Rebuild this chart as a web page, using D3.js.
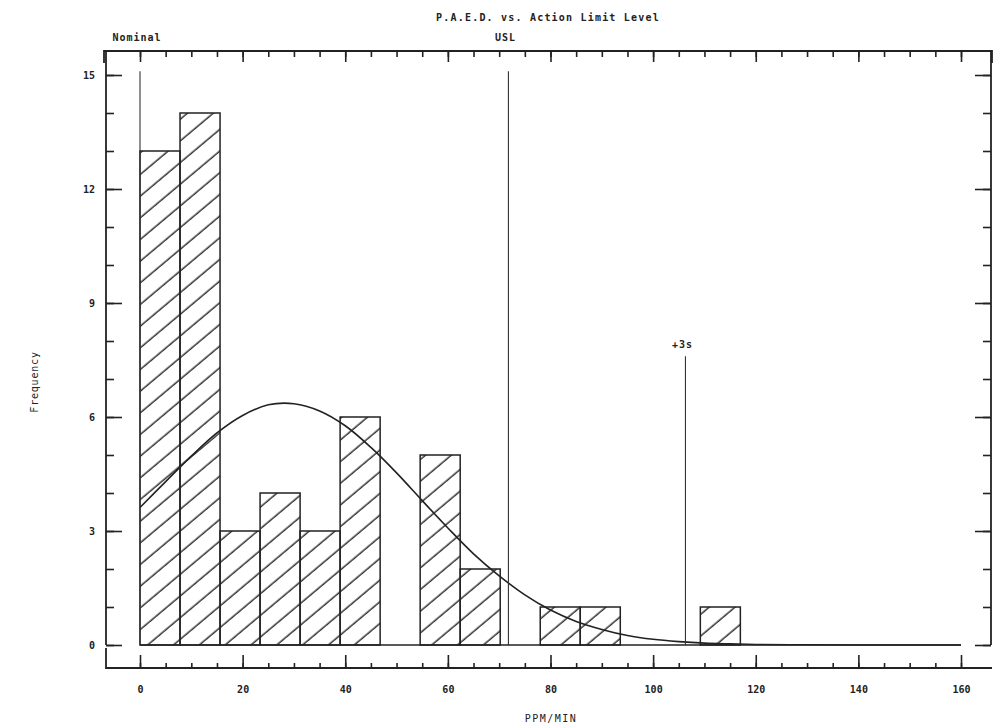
<!DOCTYPE html>
<html>
<head>
<meta charset="utf-8">
<script src="https://cdn.jsdelivr.net/npm/d3@7"></script>
<style>
body { margin: 0; background: #fff; }
text { font-family: 'DejaVu Sans Mono', monospace; fill: #222; }
.tick line { stroke: #222; stroke-width: 1.6px; }
</style>
</head>
<body>
<div id="chart"></div>
<script>

// histogram bins (PPM/MIN) and counts
var binEdges = [0, 7.8, 15.6, 23.4, 31.2, 39, 46.8, 54.6, 62.4, 70.2, 78, 85.8, 93.6, 101.4, 109.2, 117]
var counts   = [13, 14, 3, 4, 3, 6, 0, 5, 2, 0, 1, 1, 0, 0, 1]

// fitted curve
var curveX = [0, 5, 10, 15, 20, 25, 30, 35, 40, 45, 50, 55, 60, 65, 70, 75, 80, 85, 90, 95, 100, 105, 110, 115, 120, 130, 140, 150, 160]
var curveY = [3.62, 4.3, 4.97, 5.58, 6.04, 6.32, 6.35, 6.16, 5.77, 5.2, 4.53, 3.8, 3.08, 2.4, 1.82, 1.32, 0.92, 0.62, 0.41, 0.25, 0.15, 0.09, 0.05, 0.03, 0.015, 0.005, 0, 0, 0]

var xTicks = [0, 20, 40, 60, 80, 100, 120, 140, 160]
var yTicks = [0, 3, 6, 9, 12, 15]

var refLabels = ['Nominal', 'USL', '+3s']
var refValues = [0, 71.8, 106.3]
var refTops   = [15.1, 15.1, 7.6]

var W = 993, H = 727

var svg = d3.select('#chart').append('svg')
  .attr('width', W).attr('height', H)

var x = d3.scaleLinear().domain([0, 160]).range([140, 961])
var y = d3.scaleLinear().domain([0, 15]).range([645, 75])

var minorX = d3.range(0, 161, 5)
var minorY = d3.range(0, 16, 1)

// hatching
svg.append('defs').append('pattern')
  .attr('id', 'hatch')
  .attr('patternUnits', 'userSpaceOnUse')
  .attr('width', 20).attr('height', 16.6)
  .attr('patternTransform', 'rotate(-40)')
  .append('line')
  .attr('x1', 0).attr('x2', 20).attr('y1', 8).attr('y2', 8)
  .attr('stroke', '#111').attr('stroke-width', 1.3)

var bins = counts.map(function(c, i){ return {lo: binEdges[i], hi: binEdges[i + 1], n: c} })
  .filter(function(d){ return d.n > 0 })

svg.selectAll('rect.bar').data(bins).enter().append('rect')
  .attr('class', 'bar')
  .attr('x', function(d){ return x(d.lo) })
  .attr('width', function(d){ return x(d.hi) - x(d.lo) })
  .attr('y', function(d){ return y(d.n) })
  .attr('height', function(d){ return y(0) - y(d.n) })
  .attr('fill', 'url(#hatch)')
  .attr('stroke', '#222')
  .attr('stroke-width', 1.5)

// baseline
svg.append('line')
  .attr('x1', x(0)).attr('x2', x(160)).attr('y1', y(0)).attr('y2', y(0))
  .attr('stroke', '#222').attr('stroke-width', 1.6)

// fitted curve
var line = d3.line()
  .x(function(d, i){ return x(curveX[i]) })
  .y(function(d){ return y(d) })
  .curve(d3.curveCatmullRom)

svg.append('path')
  .attr('d', line(curveY))
  .attr('fill', 'none').attr('stroke', '#222').attr('stroke-width', 1.6)

// reference lines with labels
refValues.forEach(function(v, i){
  svg.append('line')
    .attr('x1', x(v)).attr('x2', x(v))
    .attr('y1', y(refTops[i])).attr('y2', y(0))
    .attr('stroke', '#333').attr('stroke-width', 1.1)
  svg.append('text')
    .attr('x', x(v) - 3)
    .attr('y', i == 2 ? y(refTops[i]) - 8 : 41)
    .attr('text-anchor', 'middle')
    .style('font-size', '10px').style('letter-spacing', '1px').style('font-weight', 'bold')
    .text(refLabels[i])
})

// frame
var frame = svg.append('g').attr('stroke', '#222').attr('stroke-width', 1.8).attr('fill', 'none')
frame.append('path').attr('d', 'M104,63 V51 H992 V63')
frame.append('path').attr('d', 'M106,51 V645')
frame.append('path').attr('d', 'M991,51 V645')
frame.append('path').attr('d', 'M106,648 V668 H992')

// top axis
svg.append('g').attr('transform', 'translate(0,51)')
  .call(d3.axisBottom(x).tickValues(minorX).tickSize(6).tickSizeOuter(0).tickFormat(''))
  .call(function(g){ g.select('.domain').remove() })
svg.append('g').attr('transform', 'translate(0,51)')
  .call(d3.axisBottom(x).tickValues(xTicks).tickSize(11).tickSizeOuter(0).tickFormat(''))
  .call(function(g){ g.select('.domain').remove() })

// bottom axis
svg.append('g').attr('transform', 'translate(0,668)')
  .call(d3.axisBottom(x).tickValues(minorX).tickSize(-5).tickSizeOuter(0).tickFormat(''))
  .call(function(g){ g.select('.domain').remove() })
svg.append('g').attr('transform', 'translate(0,668)')
  .call(d3.axisBottom(x).tickValues(xTicks).tickSize(-13).tickPadding(18).tickSizeOuter(0))
  .call(function(g){ g.select('.domain').remove() })
  .selectAll('text').style('font-size', '10px').style('font-weight', 'bold')

// left axis
svg.append('g').attr('transform', 'translate(106,0)')
  .call(d3.axisLeft(y).tickValues(minorY).tickSize(-8).tickSizeOuter(0).tickFormat(''))
  .call(function(g){ g.select('.domain').remove() })
svg.append('g').attr('transform', 'translate(106,0)')
  .call(d3.axisLeft(y).tickValues(yTicks).tickSize(-16).tickPadding(11).tickSizeOuter(0))
  .call(function(g){ g.select('.domain').remove() })
  .selectAll('text').style('font-size', '10px').style('font-weight', 'bold')

// right axis
svg.append('g').attr('transform', 'translate(991,0)')
  .call(d3.axisRight(y).tickValues(minorY).tickSize(-8).tickSizeOuter(0).tickFormat(''))
  .call(function(g){ g.select('.domain').remove() })
svg.append('g').attr('transform', 'translate(991,0)')
  .call(d3.axisRight(y).tickValues(yTicks).tickSize(-16).tickSizeOuter(0).tickFormat(''))
  .call(function(g){ g.select('.domain').remove() })

// titles
svg.append('text')
  .attr('x', 548).attr('y', 21).attr('text-anchor', 'middle')
  .style('font-size', '10px').style('letter-spacing', '1.2px').style('font-weight', 'bold')
  .text('P.A.E.D. vs. Action Limit Level')

svg.append('text')
  .attr('x', 551).attr('y', 722).attr('text-anchor', 'middle')
  .style('font-size', '10px').style('letter-spacing', '1.5px')
  .text('PPM/MIN')

svg.append('text')
  .attr('transform', 'translate(38,382) rotate(-90)').attr('text-anchor', 'middle')
  .style('font-size', '10px').style('letter-spacing', '0.8px')
  .text('Frequency')

</script>
</body>
</html>
